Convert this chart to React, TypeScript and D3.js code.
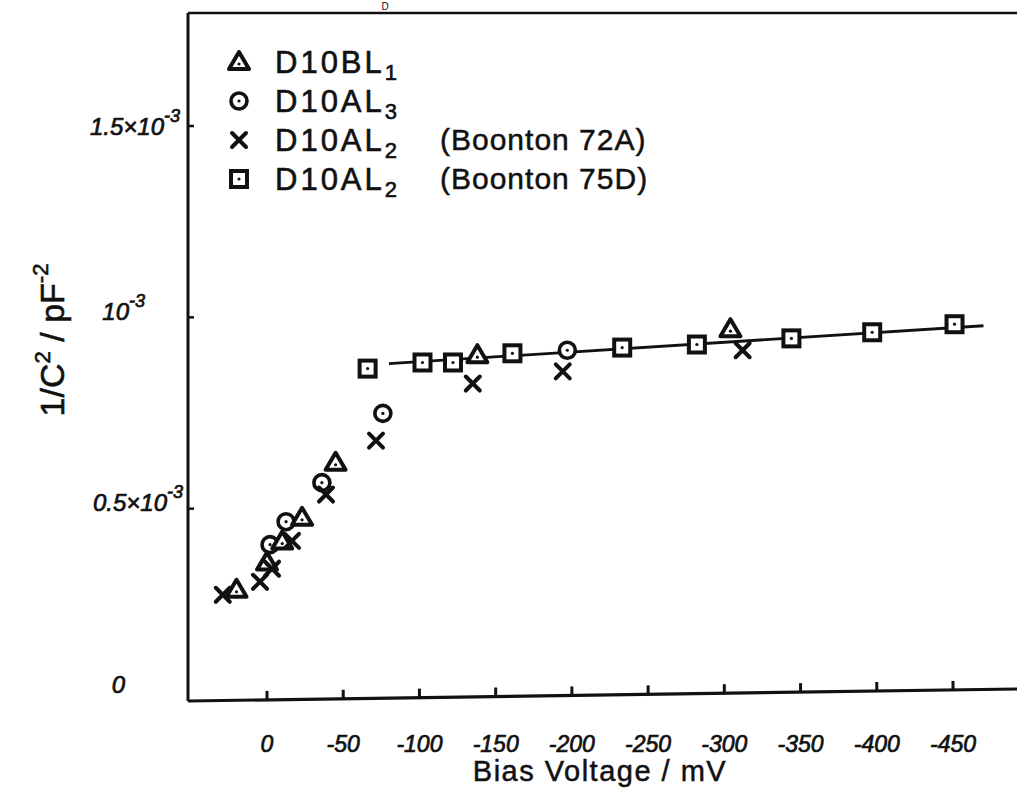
import React, { useEffect, useRef } from "react";
import * as d3 from "d3";

// bias voltage (mV) and 1/C^2 (units of 1e-3 pF^-2)
const triX = [20, 0, -10, -23, -45, -138, -304];
const triY = [0.288, 0.359, 0.414, 0.476, 0.62, 0.901, 0.969];
const circX = [-2, -12.5, -36, -76, -197];
const circY = [0.406, 0.466, 0.568, 0.749, 0.914];
const crossX = [29, 4.6, -3.3, -16.4, -38.7, -71.5, -135, -194, -312];
const crossY = [0.275, 0.309, 0.343, 0.416, 0.537, 0.678, 0.827, 0.859, 0.914];
const sqX = [-66, -102, -122, -161, -233, -282, -344, -397, -451];
const sqY = [0.866, 0.882, 0.882, 0.906, 0.921, 0.929, 0.945, 0.961, 0.982];
const fitX = [-80, -470];
const fitY = [0.879, 0.978];

const xTicks = [0, -50, -100, -150, -200, -250, -300, -350, -400, -450];
const yTicks = [0.5, 1, 1.5];

const legendNames = ["D10BL", "D10AL", "D10AL", "D10AL"];
const legendSubs = ["1", "3", "2", "2"];
const legendNotes = ["", "", "(Boonton 72A)", "(Boonton 75D)"];
const legendKinds = ["tri", "circ", "cross", "sq"];

const W = 1017;
const H = 794;

const App = () => {
	const ref = useRef(null);

	useEffect(() => {
		const svg = d3.select(ref.current);
		const ink = "#111";
		const font = "'Liberation Sans', 'DejaVu Sans', sans-serif";

		const x = d3.scaleLinear().domain([0, -450]).range([267, 953]);
		const y = d3.scaleLinear().domain([0, 1.5]).range([700, 126]);

		const left = 188;
		const top = 13;
		// hand drawn x axis rises a little to the right
		const axisY = (px) => 701 - (px - left) * 0.0145;

		const g = svg.append("g");

		// thicken text a touch, like pen lettering
		const pen = (sel, w = 0.7) => sel.attr("stroke", ink).attr("stroke-width", w).attr("fill", ink);

		// frame
		g.append("line").attr("x1", left).attr("x2", left).attr("y1", top).attr("y2", axisY(left))
			.attr("stroke", ink).attr("stroke-width", 3);
		g.append("line").attr("x1", left).attr("x2", W).attr("y1", top).attr("y2", top)
			.attr("stroke", ink).attr("stroke-width", 2.5);
		g.append("line").attr("x1", left).attr("x2", W).attr("y1", axisY(left)).attr("y2", axisY(W))
			.attr("stroke", ink).attr("stroke-width", 3.2);

		// x ticks + labels
		xTicks.forEach((t) => {
			const px = x(t);
			g.append("line").attr("x1", px).attr("x2", px).attr("y1", axisY(px)).attr("y2", axisY(px) - 9)
				.attr("stroke", ink).attr("stroke-width", 3);
			pen(g.append("text").attr("x", px).attr("y", 752).attr("text-anchor", "middle")
				.attr("font-family", font).attr("font-style", "italic").attr("font-size", 23)
				.text(t === 0 ? "0" : "-" + Math.abs(t)));
		});

		// y ticks
		yTicks.forEach((t) => {
			g.append("line").attr("x1", left).attr("x2", left + 6).attr("y1", y(t)).attr("y2", y(t))
				.attr("stroke", ink).attr("stroke-width", 2.5);
		});

		const yLab = (t, base, right, sup, dy) => {
			const tx = pen(g.append("text").attr("x", right).attr("y", y(t) + dy).attr("text-anchor", "end")
				.attr("font-family", font).attr("font-style", "italic").attr("font-size", 24));
			tx.append("tspan").text(base);
			if (sup) tx.append("tspan").attr("dy", -13).attr("font-size", 18).text(sup);
		};
		yLab(1.5, "1.5\u00d710", 180, "-3", 9);
		yLab(1, "10", 145, "-3", 3);
		yLab(0.5, "0.5\u00d710", 183, "-3", 2);
		yLab(0, "0", 125, "", -7);

		// axis titles
		const yt = pen(g.append("text").attr("transform", "translate(64,340) rotate(-90)")
			.attr("text-anchor", "middle").attr("font-family", font).attr("font-size", 34), 0.6);
		yt.append("tspan").text("1/C");
		yt.append("tspan").attr("dy", -14).attr("font-size", 22).text("2");
		yt.append("tspan").attr("dy", 14).text("  /  pF");
		yt.append("tspan").attr("dy", -16).attr("font-size", 22).text("-2");

		pen(g.append("text").attr("x", 600).attr("y", 781).attr("text-anchor", "middle")
			.attr("font-family", font).attr("font-size", 29).attr("letter-spacing", 1.5)
			.text("Bias Voltage  /  mV"), 0.5);

		// stray letter above the frame (cut in the scan)
		g.append("text").attr("x", 385).attr("y", 10).attr("text-anchor", "middle")
			.attr("font-family", font).attr("font-size", 10).attr("fill", ink).text("D");

		// fitted line
		const line = d3.line().x((d) => x(d[0])).y((d) => y(d[1]));
		g.append("path").datum(fitX.map((v, i) => [v, fitY[i]])).attr("d", line)
			.attr("fill", "none").attr("stroke", ink).attr("stroke-width", 2.8);

		// marker painters
		const draw = {
			tri: (cx, cy) => {
				const s = 10;
				g.append("path").attr("d", `M${cx},${cy - s}L${cx + s},${cy + s * 0.7}L${cx - s},${cy + s * 0.7}Z`)
					.attr("fill", "white").attr("stroke", ink).attr("stroke-width", 4).attr("stroke-linejoin", "round");
				g.append("circle").attr("cx", cx).attr("cy", cy + 2).attr("r", 1.6).attr("fill", ink);
			},
			circ: (cx, cy) => {
				g.append("circle").attr("cx", cx).attr("cy", cy).attr("r", 8)
					.attr("fill", "white").attr("stroke", ink).attr("stroke-width", 3.6);
				g.append("circle").attr("cx", cx).attr("cy", cy).attr("r", 1.6).attr("fill", ink);
			},
			cross: (cx, cy) => {
				const s = 7;
				g.append("path").attr("d", `M${cx - s},${cy - s}L${cx + s},${cy + s}M${cx + s},${cy - s}L${cx - s},${cy + s}`)
					.attr("stroke", ink).attr("stroke-width", 4).attr("stroke-linecap", "round");
			},
			sq: (cx, cy) => {
				g.append("rect").attr("x", cx - 8).attr("y", cy - 8).attr("width", 16).attr("height", 16)
					.attr("fill", "white").attr("stroke", ink).attr("stroke-width", 4);
				g.append("circle").attr("cx", cx).attr("cy", cy).attr("r", 1.6).attr("fill", ink);
			},
		};

		sqX.forEach((v, i) => draw.sq(x(v), y(sqY[i])));
		circX.forEach((v, i) => draw.circ(x(v), y(circY[i])));
		triX.forEach((v, i) => draw.tri(x(v), y(triY[i])));
		crossX.forEach((v, i) => draw.cross(x(v), y(crossY[i])));

		// legend
		legendNames.forEach((name, i) => {
			const ly = 62 + i * 39;
			draw[legendKinds[i]](239, ly);
			const t = pen(g.append("text").attr("x", 275).attr("y", ly + 11)
				.attr("font-family", font).attr("font-size", 31).attr("letter-spacing", 3), 0.6);
			t.append("tspan").text(name);
			t.append("tspan").attr("dy", 7).attr("font-size", 22).text(legendSubs[i]);
			if (legendNotes[i]) {
				pen(g.append("text").attr("x", 440).attr("y", ly + 10).attr("font-family", font)
					.attr("font-size", 30).attr("letter-spacing", 1).text(legendNotes[i]), 0.5);
			}
		});

		return () => {
			svg.selectAll("*").remove();
		};
	}, []);

	return (
		<svg ref={ref} width={W} height={H} style={{ position: "absolute", left: 0, top: 0, background: "white" }}></svg>
	);
};

export default App;
